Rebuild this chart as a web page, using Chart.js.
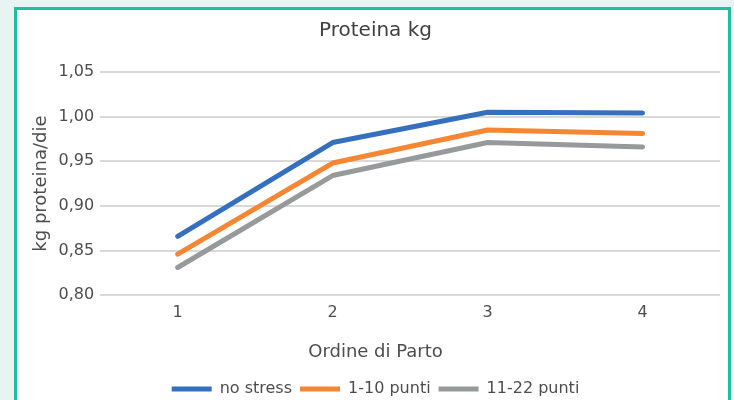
<!DOCTYPE html>
<html lang="it">
<head>
<meta charset="UTF-8">
<title>Proteina kg</title>
<script src="https://cdn.jsdelivr.net/npm/chart.js"></script>
<style>
    body {
        margin: 0;
        background-color: #e8f4f1;
        font-family: 'DejaVu Sans', sans-serif;
    }
    .frame {
        position: absolute;
        left: 14px;
        top: 7px;
        width: 711px;
        height: 400px;
        border: 3px solid #1dbf9f;
        background: #ffffff;
    }
    .frame canvas {
        width: 711px !important;
        height: 397px !important;
    }
</style>
</head>
<body>
<div class="frame">
    <canvas id="proteinChart" width="711" height="397"></canvas>
</div>
<script>
    const categories = ['1', '2', '3', '4'];
    const noStress = [0.866, 0.971, 1.005, 1.004];
    const punti1to10 = [0.846, 0.948, 0.985, 0.981];
    const punti11to22 = [0.831, 0.934, 0.971, 0.966];
    const yTickLabels = ['0,80', '0,85', '0,90', '0,95', '1,00', '1,05'];

    const textColor = '#4d4d4d';
    const fontFamily = "'DejaVu Sans', sans-serif";

    function makeSeries(label, data, color) {
        return {
            label: label,
            data: data,
            borderColor: color,
            backgroundColor: color,
            borderWidth: 5,
            borderCapStyle: 'round',
            borderJoinStyle: 'round',
            pointRadius: 0,
            pointHoverRadius: 0,
            tension: 0
        };
    }

    const ctx = document.getElementById('proteinChart').getContext('2d');
    new Chart(ctx, {
        type: 'line',
        data: {
            labels: categories,
            datasets: [
                makeSeries('no stress', noStress, '#3470bd'),
                makeSeries('1-10 punti', punti1to10, '#f58634'),
                makeSeries('11-22 punti', punti11to22, '#969a9b')
            ]
        },
        options: {
            responsive: false,
            animation: false,
            layout: {
                padding: { left: 14, right: 8, top: 0, bottom: 0 }
            },
            scales: {
                x: {
                    offset: true,
                    grid: { display: false, drawTicks: false },
                    border: { display: false },
                    ticks: {
                        color: textColor,
                        font: { family: fontFamily, size: 16 },
                        padding: 8
                    }
                },
                y: {
                    min: 0.8,
                    max: 1.05,
                    ticks: {
                        stepSize: 0.05,
                        color: textColor,
                        font: { family: fontFamily, size: 16 },
                        padding: 6,
                        callback: (v, i) => yTickLabels[i]
                    },
                    grid: {
                        color: '#d9d9d9',
                        lineWidth: 2,
                        drawTicks: false
                    },
                    border: { display: false },
                    title: {
                        display: true,
                        text: 'kg proteina/die',
                        color: textColor,
                        font: { family: fontFamily, size: 18 },
                        padding: { top: 0, bottom: 0 }
                    }
                }
            },
            plugins: {
                title: {
                    display: true,
                    text: 'Proteina kg',
                    color: '#404040',
                    font: { family: fontFamily, size: 20, weight: 'normal' },
                    padding: { top: 9, bottom: 29 }
                },
                // x-axis title, centred on the whole chart like the original
                subtitle: {
                    display: true,
                    position: 'bottom',
                    text: 'Ordine di Parto',
                    color: textColor,
                    font: { family: fontFamily, size: 18, weight: 'normal' },
                    padding: { top: 11, bottom: 10 }
                },
                legend: {
                    position: 'bottom',
                    weight: 2000,
                    labels: {
                        color: textColor,
                        font: { family: fontFamily, size: 16 },
                        usePointStyle: true,
                        pointStyle: 'line',
                        pointStyleWidth: 40,
                        boxHeight: 10,
                        padding: 8
                    }
                },
                tooltip: { enabled: false }
            }
        }
    });
</script>
</body>
</html>
